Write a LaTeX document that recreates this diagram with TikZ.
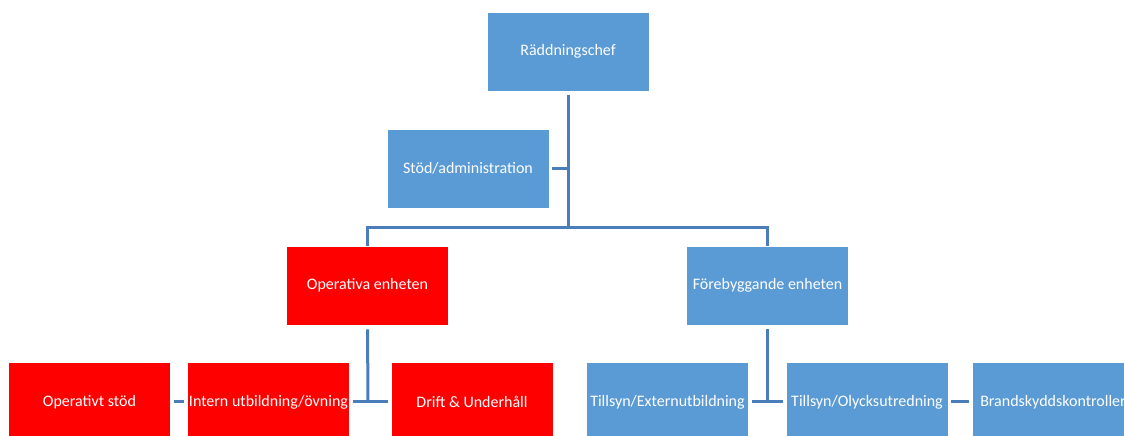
\documentclass[tikz,border=0pt]{standalone}
\usepackage{fontspec}
\setmainfont{Carlito}
\definecolor{boxblue}{HTML}{5B9BD5}
\definecolor{boxred}{HTML}{FF0000}
\definecolor{linkblue}{HTML}{4A7EBB}
\begin{document}
\begin{tikzpicture}[x=1bp,y=-1bp,
  unit/.style={rectangle, minimum width=162bp, minimum height=79bp, inner sep=0pt,
    text=white, font=\fontsize{16bp}{19bp}\selectfont, draw=white, line width=0.6bp},
  bluebox/.style={unit, fill=boxblue},
  redbox/.style={unit, fill=boxred},
  link/.style={draw=linkblue, line width=3bp}]
\useasboundingbox (0,0) rectangle (1124,436);
\clip (0,0) rectangle (1124,436);
\node[bluebox] (rc) at (568,51.5) {Räddningschef};
\node[bluebox] (stod) at (468,168.5) {Stöd/administration};
\node[redbox] (op) at (367.5,285.5) {Operativa enheten};
\node[bluebox] (fb) at (767.5,285.5) {Förebyggande enheten};
\node[redbox] (os) at (89.5,402) {Operativt stöd};
\node[redbox] (iu) at (268.5,402) {Intern utbildning/övning};
\node[redbox] (du) at (472,402) {Drift \& Underhåll};
\node[bluebox] (te) at (667.5,402) {Tillsyn/Externutbildning};
\node[bluebox] (to) at (867,402) {Tillsyn/Olycksutredning};
\node[bluebox] (bk) at (1053,402) {Brandskyddskontroller};
\coordinate (jp) at (568,228);
\coordinate (ja) at (568,168.5);
\coordinate (jl) at (368,402);
\coordinate (jr) at (767.5,402);
% top tree
\draw[link, shorten <=4bp] (rc.south) -- (jp);
\draw[link, shorten <=3bp] (stod.east) -- (ja);
\draw[link] (jp) -| (op.north);
\draw[link] (jp) -| (fb.north);
% left branch
\draw[link, shorten <=4bp] (op.south) -- (jl);
\draw[link, shorten <=3bp, shorten >=3bp] (iu.east) -- (du.west);
\draw[link, shorten <=3bp, shorten >=3bp] (os.east) -- (iu.west);
% right branch
\draw[link, shorten <=4bp] (fb.south) -- (jr);
\draw[link, shorten <=3bp, shorten >=3bp] (te.east) -- (to.west);
\draw[link, shorten <=3bp, shorten >=3bp] (to.east) -- (bk.west);
\end{tikzpicture}
\end{document}
